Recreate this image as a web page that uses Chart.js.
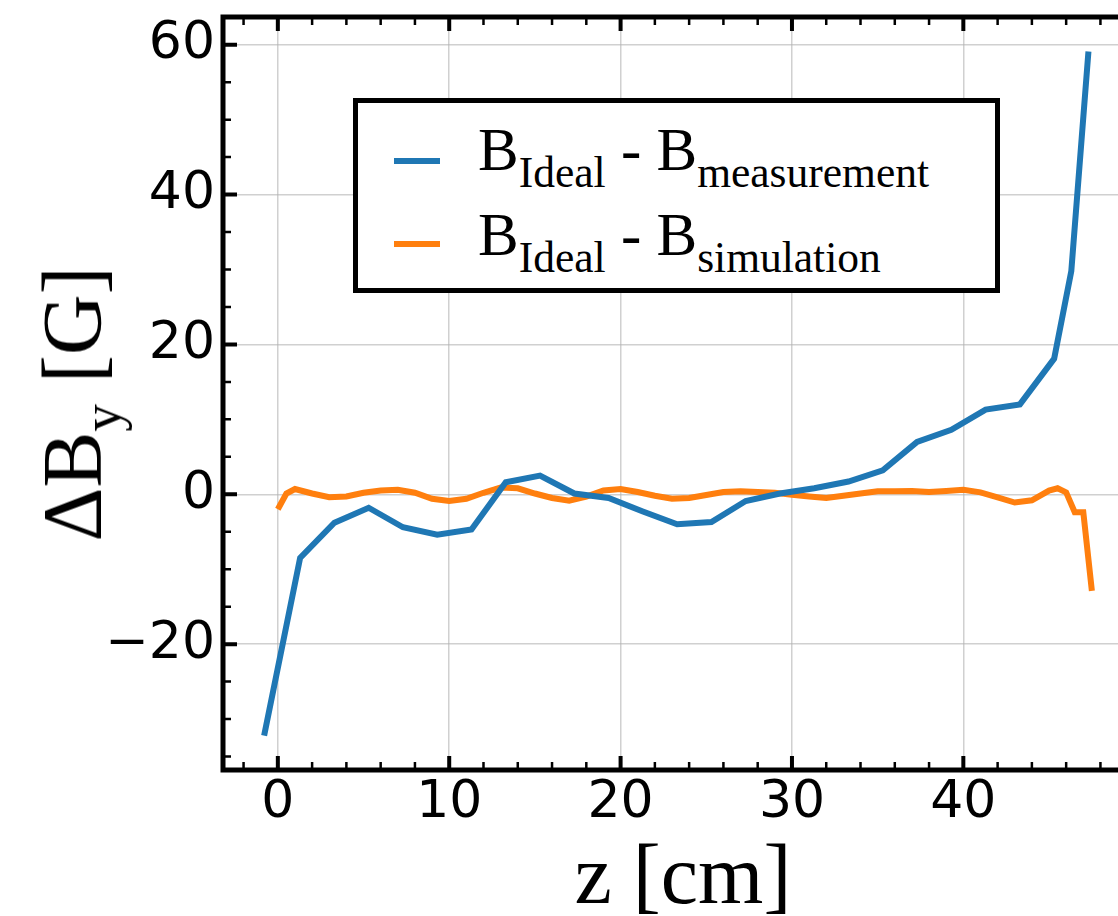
<!DOCTYPE html>
<html>
<head>
<meta charset="utf-8">
<script src="https://cdn.jsdelivr.net/npm/chart.js@4"></script>
<style>
    html, body { margin: 0; padding: 0; background: #fff; overflow: hidden; }
    #wrap { position: relative; width: 1150px; height: 916px; }
    #myChart { position: absolute; left: 0; top: 0; }
    .serif { font-family: "Liberation Serif", "Times New Roman", serif; color: #000; white-space: nowrap; }
    #ytitle { position: absolute; left: 73px; top: 404px; font-size: 84px; line-height: 84px;
              transform: translate(-50%, -50%) rotate(-90deg); }
    #xtitle { position: absolute; left: 683px; top: 833px; font-size: 84px; line-height: 84px;
              transform: translateX(-50%); }
    .sub { position: relative; line-height: 0; }
    #legend { position: absolute; left: 353px; top: 98px; width: 647px; height: 195px;
              box-sizing: border-box; border: 5px solid #000; background: #fff; }
    .swatch { position: absolute; left: 36px; width: 46px; height: 6px; }
    .entry { position: absolute; left: 120px; font-size: 61px; line-height: 61px; }
    .entry .sub { font-size: 43.5px; top: 17px; }
</style>
</head>
<body>
<div id="wrap">
    <canvas id="myChart" width="1150" height="916"></canvas>
    <div id="ytitle" class="serif">&Delta;B<span class="sub" style="font-size:55px;top:19px;">y</span> [G]</div>
    <div id="xtitle" class="serif">z [cm]</div>
    <div id="legend" class="serif">
        <div class="swatch" id="sw1" style="top:55px;"></div>
        <div class="entry" id="lb1" style="top:16px;"></div>
        <div class="swatch" id="sw2" style="top:138px;"></div>
        <div class="entry" id="lb2" style="top:101px;"></div>
    </div>
</div>
<script>
// B_Ideal - B_measurement
var measZ  = [-0.8, 1.3, 3.3, 5.3, 7.3, 9.3, 11.3, 13.3, 15.3, 17.3, 19.3, 21.3, 23.3, 25.3, 27.3, 29.3, 31.3, 33.3, 35.3, 37.3, 39.3, 41.3, 43.3, 45.3, 46.3, 47.3];
var measDB = [-32.2, -8.5, -3.8, -1.8, -4.4, -5.4, -4.7, 1.6, 2.5, 0.1, -0.5, -2.3, -4.0, -3.7, -0.9, 0.1, 0.8, 1.7, 3.2, 7.0, 8.6, 11.3, 12.0, 18.1, 29.8, 59.1];

// B_Ideal - B_simulation
var simZ  = [0, 0.5, 1, 2, 3, 4, 5, 6, 7, 8, 9, 10, 11, 12, 13, 14, 15, 16, 17, 18, 19, 20, 21, 22, 23, 24, 25, 26, 27, 28, 29, 30, 31, 32, 33, 34, 35, 36, 37, 38, 39, 40, 41, 42, 43, 44, 45, 45.5, 46, 46.5, 47, 47.5];
var simDB = [-2.0, 0.1, 0.7, 0.1, -0.4, -0.3, 0.2, 0.5, 0.6, 0.2, -0.6, -0.9, -0.6, 0.2, 0.9, 0.8, 0.1, -0.5, -0.85, -0.3, 0.5, 0.7, 0.3, -0.2, -0.6, -0.5, -0.1, 0.3, 0.4, 0.3, 0.2, -0.05, -0.3, -0.5, -0.2, 0.1, 0.4, 0.4, 0.45, 0.3, 0.45, 0.6, 0.25, -0.4, -1.1, -0.8, 0.5, 0.8, 0.25, -2.4, -2.4, -12.9];

var labels = ['measurement', 'simulation'];
var colors = ['#1f77b4', '#ff7f0e'];

var xTicks = [0, 10, 20, 30, 40];
var yTicks = [-20, 0, 20, 40, 60];

function punti(xs, ys) {
    var out = [];
    for (var i = 0; i < xs.length; i++) {
        out.push({x: xs[i], y: ys[i]});
    }
    return out;
}

// minor ticks: every 2 cm / every 5 G
var xMinor = [];
for (var v = -2; v <= 48; v += 2) { if (v % 10 !== 0) xMinor.push(v); }
var yMinor = [];
for (var w = -35; w <= 60; w += 5) { if (w % 20 !== 0) yMinor.push(w); }

// spines + inward ticks like matplotlib
var framePlugin = {
    id: 'frame',
    afterDraw: function (chart) {
        var ctx = chart.ctx;
        var a = chart.chartArea;
        var sx = chart.scales.x, sy = chart.scales.y;
        ctx.save();
        ctx.strokeStyle = '#000';
        function tacche(list, len, width) {
            ctx.lineWidth = width;
            ctx.beginPath();
            list.forEach(function (v) {
                var px = sx.getPixelForValue(v);
                if (px > a.left && px < a.right) {
                    ctx.moveTo(px, a.bottom); ctx.lineTo(px, a.bottom - len);
                    ctx.moveTo(px, a.top); ctx.lineTo(px, a.top + len);
                }
            });
            ctx.stroke();
        }
        function taccheY(list, len, width) {
            ctx.lineWidth = width;
            ctx.beginPath();
            list.forEach(function (v) {
                var py = sy.getPixelForValue(v);
                if (py > a.top && py < a.bottom) {
                    ctx.moveTo(a.left, py); ctx.lineTo(a.left + len, py);
                    ctx.moveTo(a.right, py); ctx.lineTo(a.right - len, py);
                }
            });
            ctx.stroke();
        }
        tacche(xTicks, 14, 4);
        tacche(xMinor, 8, 2.5);
        taccheY(yTicks, 14, 4);
        taccheY(yMinor, 8, 2.5);
        ctx.lineWidth = 5;
        ctx.strokeRect(a.left, a.top, a.right - a.left, a.bottom - a.top);
        ctx.restore();
    }
};

var tickFont = {family: 'DejaVu Sans', size: 52};

var ctx = document.getElementById('myChart');
var chart = new Chart(ctx, {
    type: 'line',
    data: {
        datasets: [
            {
                label: labels[0],
                data: punti(measZ, measDB),
                borderColor: colors[0],
                backgroundColor: colors[0],
                borderWidth: 6,
                pointRadius: 0,
                tension: 0
            },
            {
                label: labels[1],
                data: punti(simZ, simDB),
                borderColor: colors[1],
                backgroundColor: colors[1],
                borderWidth: 6,
                pointRadius: 0,
                tension: 0
            }
        ]
    },
    options: {
        responsive: false,
        animation: false,
        layout: {padding: {top: 17, right: 17, left: 0, bottom: 0}},
        plugins: {legend: {display: false}, tooltip: {enabled: false}},
        scales: {
            x: {
                type: 'linear',
                min: -3.2,
                max: 49.9,
                afterBuildTicks: function (s) { s.ticks = xTicks.map(function (t) { return {value: t}; }); },
                afterFit: function (s) { s.height = 146; s.paddingLeft = 0; s.paddingRight = 0; },
                grid: {color: 'rgba(176,176,176,0.6)', lineWidth: 1.5, drawTicks: false},
                border: {display: false},
                ticks: {font: tickFont, color: '#000', padding: 2, maxRotation: 0}
            },
            y: {
                type: 'linear',
                min: -36.8,
                max: 63.7,
                afterBuildTicks: function (s) { s.ticks = yTicks.map(function (t) { return {value: t}; }); },
                afterFit: function (s) { s.width = 223; s.paddingTop = 0; s.paddingBottom = 0; },
                grid: {color: 'rgba(176,176,176,0.6)', lineWidth: 1.5, drawTicks: false},
                border: {display: false},
                ticks: {
                    font: tickFont, color: '#000', padding: 8,
                    callback: function (v) { return v < 0 ? '\u2212' + Math.abs(v) : '' + v; }
                }
            }
        }
    },
    plugins: [framePlugin]
});

// legend with subscripts
document.getElementById('sw1').style.background = colors[0];
document.getElementById('sw2').style.background = colors[1];
document.getElementById('lb1').innerHTML = 'B<span class="sub">Ideal</span> - B<span class="sub">' + labels[0] + '</span>';
document.getElementById('lb2').innerHTML = 'B<span class="sub">Ideal</span> - B<span class="sub">' + labels[1] + '</span>';
</script>
</body>
</html>
